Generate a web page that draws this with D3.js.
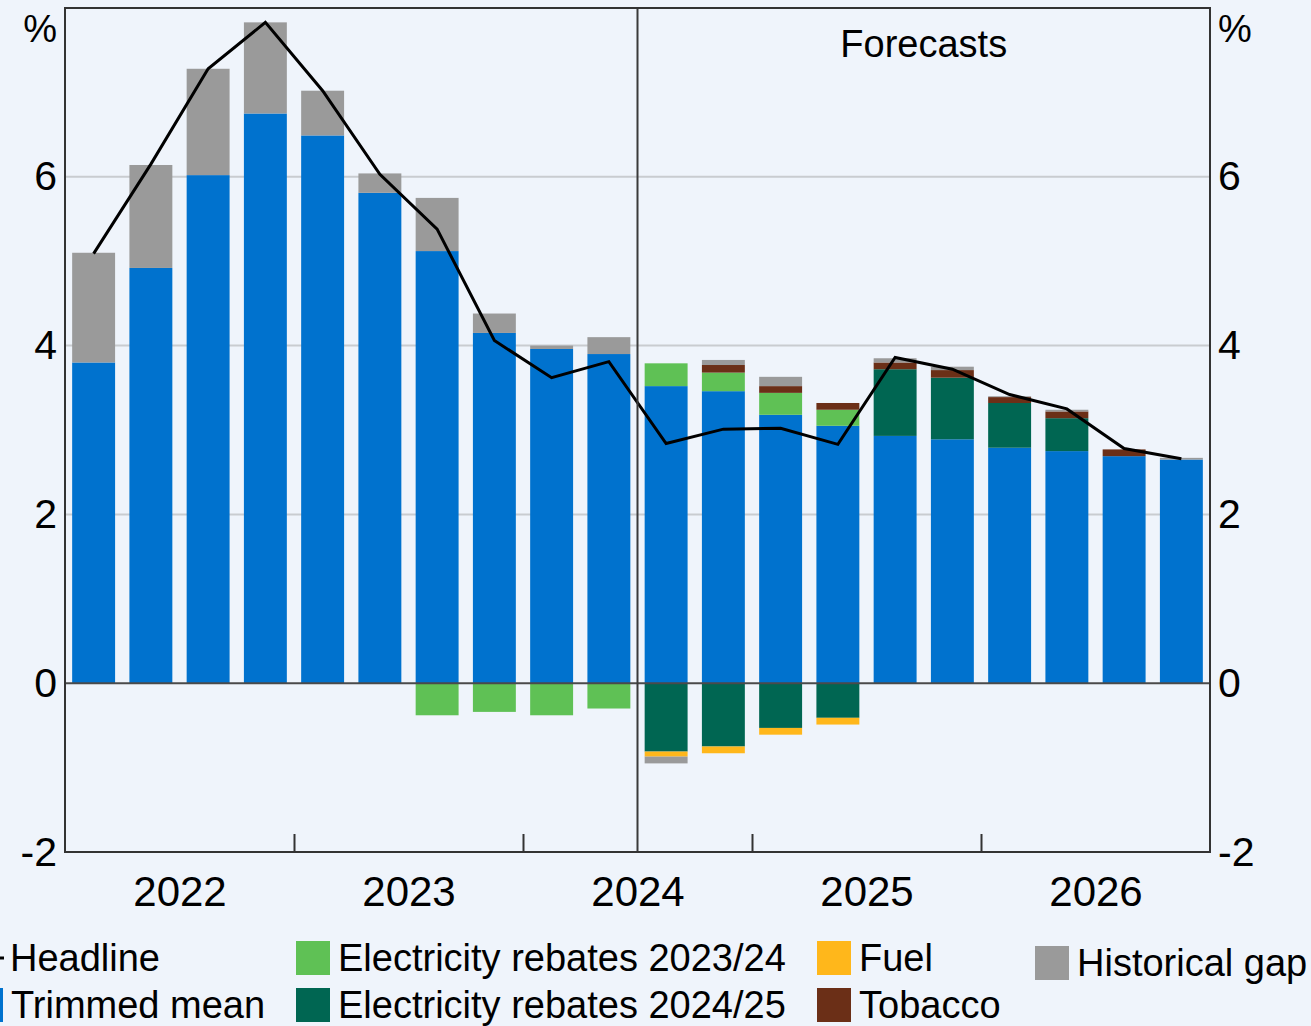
<!DOCTYPE html>
<html><head><meta charset="utf-8">
<script src="https://cdn.jsdelivr.net/npm/d3@7"></script>
<style>
html,body{margin:0;padding:0;background:#EFF4FB;}
svg{display:block;font-family:"Liberation Sans",Arial,sans-serif;}
</style></head><body>
<svg id="chart" width="1311" height="1026"></svg>
<script>
// ---- data ----
const quarters = ["2021Q3","2021Q4","2022Q1","2022Q2","2022Q3","2022Q4","2023Q1","2023Q2","2023Q3","2023Q4",
                  "2024Q1","2024Q2","2024Q3","2024Q4","2025Q1","2025Q2","2025Q3","2025Q4","2026Q1","2026Q2"];
const yearLabels = ["2022","2023","2024","2025","2026"];
const yTicks = [-2,0,2,4,6];
const trimmedMean   = [3.80,4.92,6.02,6.75,6.49,5.81,5.12,4.15,3.96,3.90,3.52,3.46,3.18,3.05,2.93,2.89,2.79,2.75,2.69,2.65];
const elec2324      = [0,0,0,0,0,0,-0.38,-0.34,-0.38,-0.30,0.27,0.22,0.26,0.19,0,0,0,0,0,0];
const elec2425      = [0,0,0,0,0,0,0,0,0,0,-0.81,-0.75,-0.53,-0.41,0.79,0.73,0.53,0.39,0,0];
const fuel          = [0,0,0,0,0,0,0,0,0,0,-0.06,-0.08,-0.08,-0.08,0,0,0,0,0,0];
const tobacco       = [0,0,0,0,0,0,0,0,0,0,0,0.09,0.08,0.08,0.08,0.09,0.07,0.08,0.08,0];
const historicalGap = [1.30,1.22,1.26,1.08,0.53,0.23,0.63,0.23,0.04,0.20,-0.08,0.06,0.11,0,0.05,0.04,0.01,0.02,0,0.02];
const headline      = [5.09,6.15,7.28,7.83,7.02,6.03,5.38,4.06,3.62,3.81,2.84,3.01,3.02,2.83,3.86,3.72,3.42,3.25,2.78,2.66];
const forecastStart = 10; // index where forecasts begin

const seriesKeys  = ["Trimmed mean","Electricity rebates 2023/24","Electricity rebates 2024/25","Fuel","Tobacco","Historical gap"];
const seriesVals  = [trimmedMean, elec2324, elec2425, fuel, tobacco, historicalGap];
const colors = {"Trimmed mean":"#0072CE","Electricity rebates 2023/24":"#5FC155","Electricity rebates 2024/25":"#006652",
                "Fuel":"#FFB71B","Tobacco":"#6B2F17","Historical gap":"#9A9A9A","Headline":"#000"};

// ---- layout ----
const svg = d3.select("#chart");
const L = 65, R = 1210, T = 8, B = 852;
const FONT = "Liberation Sans, Arial, sans-serif";

const x = d3.scaleBand().domain(d3.range(quarters.length)).range([L,R]).paddingInner(0.25).paddingOuter(0.125);
const xi = d3.scaleLinear().domain([0,quarters.length]).range([L,R]);
const y = d3.scaleLinear().domain([-2,8]).range([B,T]);

// gridlines
svg.append("g").selectAll("line").data([2,4,6]).join("line")
  .attr("x1",L).attr("x2",R).attr("y1",d=>y(d)).attr("y2",d=>y(d))
  .attr("stroke","#C9CCD0").attr("stroke-width",2);

// stacked bars
const table = quarters.map((q,i)=>{const o={i}; seriesKeys.forEach((k,j)=>o[k]=seriesVals[j][i]); return o;});
const stack = d3.stack().keys(seriesKeys).offset(d3.stackOffsetDiverging)(table);
svg.append("g").selectAll("g").data(stack).join("g")
  .attr("fill",d=>colors[d.key])
  .selectAll("rect").data(d=>d.filter(s=>s[1]!==s[0])).join("rect")
  .attr("x",d=>x(d.data.i)).attr("width",x.bandwidth())
  .attr("y",d=>y(Math.max(d[0],d[1]))).attr("height",d=>Math.abs(y(d[0])-y(d[1])));

// zero line
svg.append("line").attr("x1",L).attr("x2",R).attr("y1",y(0)).attr("y2",y(0))
  .attr("stroke","#4a4a4a").attr("stroke-width",2);

// headline line
svg.append("path").datum(headline)
  .attr("fill","none").attr("stroke","#000").attr("stroke-width",3).attr("stroke-linejoin","miter")
  .attr("d",d3.line().x((d,i)=>x(i)+x.bandwidth()/2).y(d=>y(d)));

// forecast divider
svg.append("line").attr("x1",xi(forecastStart)).attr("x2",xi(forecastStart)).attr("y1",T).attr("y2",B)
  .attr("stroke","#3a3a3a").attr("stroke-width",2);
svg.append("text").attr("x",(xi(forecastStart)+R)/2).attr("y",57).attr("text-anchor","middle")
  .attr("font-size",38).attr("fill","#000").text("Forecasts");

// frame
svg.append("rect").attr("x",L).attr("y",T).attr("width",R-L).attr("height",B-T)
  .attr("fill","none").attr("stroke","#333").attr("stroke-width",2);

// bottom axis: year boundary ticks
const xTickAxis = d3.axisBottom(xi).tickValues([4,8,12,16]).tickSize(-18).tickFormat("");
const gx = svg.append("g").attr("transform",`translate(0,${B})`).call(xTickAxis);
gx.select(".domain").remove();
gx.selectAll("line").attr("stroke","#333").attr("stroke-width",2);
// year labels
const xLabAxis = d3.axisBottom(xi).tickValues(yearLabels.map((d,i)=>i*4+2)).tickSize(0).tickPadding(0)
  .tickFormat((d,i)=>yearLabels[i]);
const gxl = svg.append("g").attr("transform",`translate(0,${B+24})`).call(xLabAxis);
gxl.select(".domain").remove();
gxl.selectAll("text").attr("font-size",42).attr("fill","#000").attr("font-family",FONT);

// y axes
function yAxis(gen, tx){
  const g = svg.append("g").attr("transform",`translate(${tx},0)`)
    .call(gen.tickValues(yTicks).tickSize(0).tickPadding(8).tickFormat(d=>String(d)));
  g.select(".domain").remove();
  g.selectAll("text").attr("font-size",41).attr("fill","#000").attr("font-family",FONT);
  return g;
}
yAxis(d3.axisLeft(y), L);
yAxis(d3.axisRight(y), R);
svg.append("text").attr("x",L-8).attr("y",42).attr("text-anchor","end").attr("font-size",38).text("%");
svg.append("text").attr("x",R+8).attr("y",42).attr("text-anchor","start").attr("font-size",38).text("%");

// legend
const legendItems = [
  {k:"Headline", type:"line", x:-40, y:958},
  {k:"Trimmed mean", type:"box", x:-31, y:1005},
  {k:"Electricity rebates 2023/24", type:"box", x:296, y:958},
  {k:"Electricity rebates 2024/25", type:"box", x:296, y:1005},
  {k:"Fuel", type:"box", x:817, y:958},
  {k:"Tobacco", type:"box", x:817, y:1005},
  {k:"Historical gap", type:"box", x:1035, y:963}
];
const lg = svg.append("g").selectAll("g").data(legendItems).join("g")
  .attr("transform",d=>`translate(${d.x},${d.y})`);
lg.filter(d=>d.type==="box").append("rect").attr("x",0).attr("y",-17).attr("width",34).attr("height",34)
  .attr("fill",d=>colors[d.k]);
lg.filter(d=>d.type==="line").append("line").attr("x1",0).attr("x2",44).attr("y1",0).attr("y2",0)
  .attr("stroke","#000").attr("stroke-width",3);
lg.append("text").attr("x",42).attr("y",13).attr("font-size",38).attr("fill","#000").text(d=>d.k)
  .attr("dx",d=>d.type==="line"?8:0);
</script>
</body></html>
